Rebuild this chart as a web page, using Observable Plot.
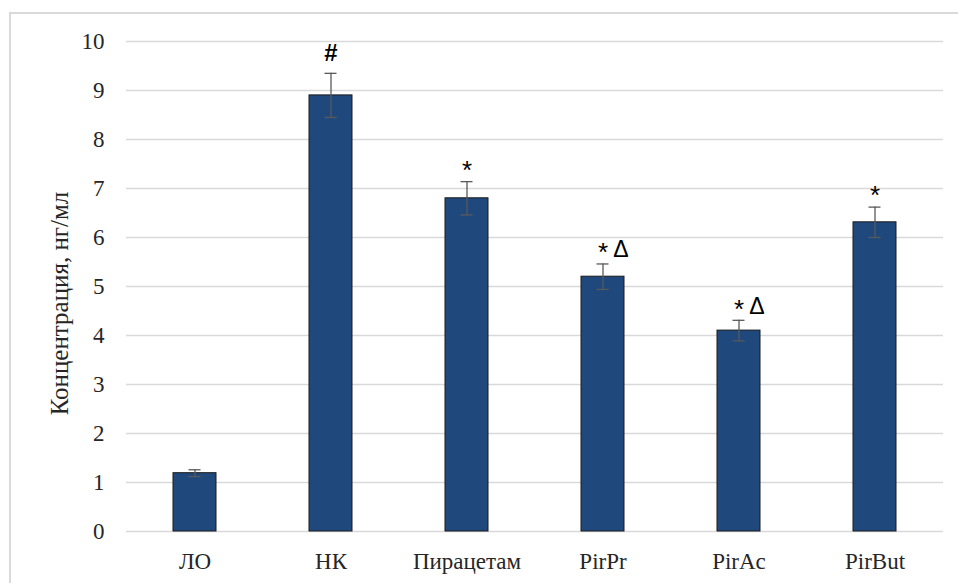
<!DOCTYPE html>
<html>
<head>
<meta charset="utf-8">
<script src="https://cdn.jsdelivr.net/npm/d3@7"></script>
<script src="https://cdn.jsdelivr.net/npm/@observablehq/plot@0.6"></script>
<style>
  html, body { margin: 0; padding: 0; background: #fff; }
  #wrap { position: relative; width: 958px; height: 583px; overflow: hidden; }
  #border { position: absolute; left: 9px; top: 12px; width: 980px; height: 600px;
            border-left: 2px solid #d9d9d9; border-top: 2px solid #d9d9d9; }
  #chart { position: absolute; left: 0; top: 0; }
</style>
</head>
<body>
<div id="wrap"><div id="border"></div><div id="chart"></div></div>
<script>
// Group names and measured concentrations (mean ± error)
const groups = ["ЛО", "НК", "Пирацетам", "PirPr", "PirAc", "PirBut"];
const means = [1.19, 8.90, 6.80, 5.20, 4.10, 6.31];
const errors = [0.07, 0.45, 0.34, 0.26, 0.21, 0.31];
// Significance marks above each bar
const hashMarks = ["", "#", "", "", "", ""];
const starMarks = ["", "", "*", "*", "*", "*"];
const deltaMarks = ["", "", "", "Δ", "Δ", ""];
const yTicks = [0, 1, 2, 3, 4, 5, 6, 7, 8, 9, 10];
const yTitle = "Концентрация, нг/мл";

const data = groups.map((g, i) => ({
  group: g, mean: means[i], err: errors[i],
  hash: hashMarks[i], star: starMarks[i], delta: deltaMarks[i]
}));

const serif = "'Liberation Serif', 'Times New Roman', serif";
const sans = "'Liberation Sans', Arial, sans-serif";

const chart = Plot.plot({
  width: 958,
  height: 583,
  marginLeft: 126,
  marginRight: 15,
  marginTop: 41,
  marginBottom: 52,
  style: { fontFamily: serif, fontSize: "23px", color: "#262626", background: "transparent" },
  x: { domain: groups, paddingInner: 0.684, paddingOuter: 0.342, label: null },
  y: { domain: [0, 10], label: null },
  marks: [
    Plot.gridY(yTicks, { stroke: "#d9d9d9", strokeOpacity: 1, strokeWidth: 1.3 }),
    Plot.barY(data, { x: "group", y: "mean", fill: "#1f497d", stroke: "#1a1a1a", strokeWidth: 1 }),
    Plot.ruleX(data, { x: "group", y1: d => d.mean - d.err, y2: d => d.mean + d.err, stroke: "#595959", strokeWidth: 1.3 }),
    Plot.tickY(data, { x: "group", y: d => d.mean + d.err, stroke: "#595959", strokeWidth: 1.3, inset: 15.5 }),
    Plot.tickY(data, { x: "group", y: d => d.mean - d.err, stroke: "#595959", strokeWidth: 1.3, inset: 15.5 }),
    Plot.text(data, { x: "group", y: d => d.mean + d.err, text: "hash", dy: -20, fontSize: 24, fontWeight: "bold", fontFamily: sans, fill: "#000" }),
    Plot.text(data, { x: "group", y: d => d.mean + d.err, text: "star", dy: -11, fontSize: 26, fontFamily: sans, fill: "#000" }),
    Plot.text(data, { x: "group", y: d => d.mean + d.err, text: "delta", dx: 18, dy: -14, fontSize: 23, fontFamily: sans, fill: "#000" }),
    Plot.axisX({ tickSize: 0, tickPadding: 21, fontSize: 23, label: null }),
    Plot.axisY({ ticks: yTicks, tickSize: 0, tickPadding: 22, fontSize: 23, label: null }),
    Plot.text([yTitle], { frameAnchor: "left", textAnchor: "middle", dx: -67, dy: 17, rotate: -90, fontSize: 25, fill: "#262626" })
  ]
});

document.getElementById("chart").appendChild(chart);
</script>
</body>
</html>
